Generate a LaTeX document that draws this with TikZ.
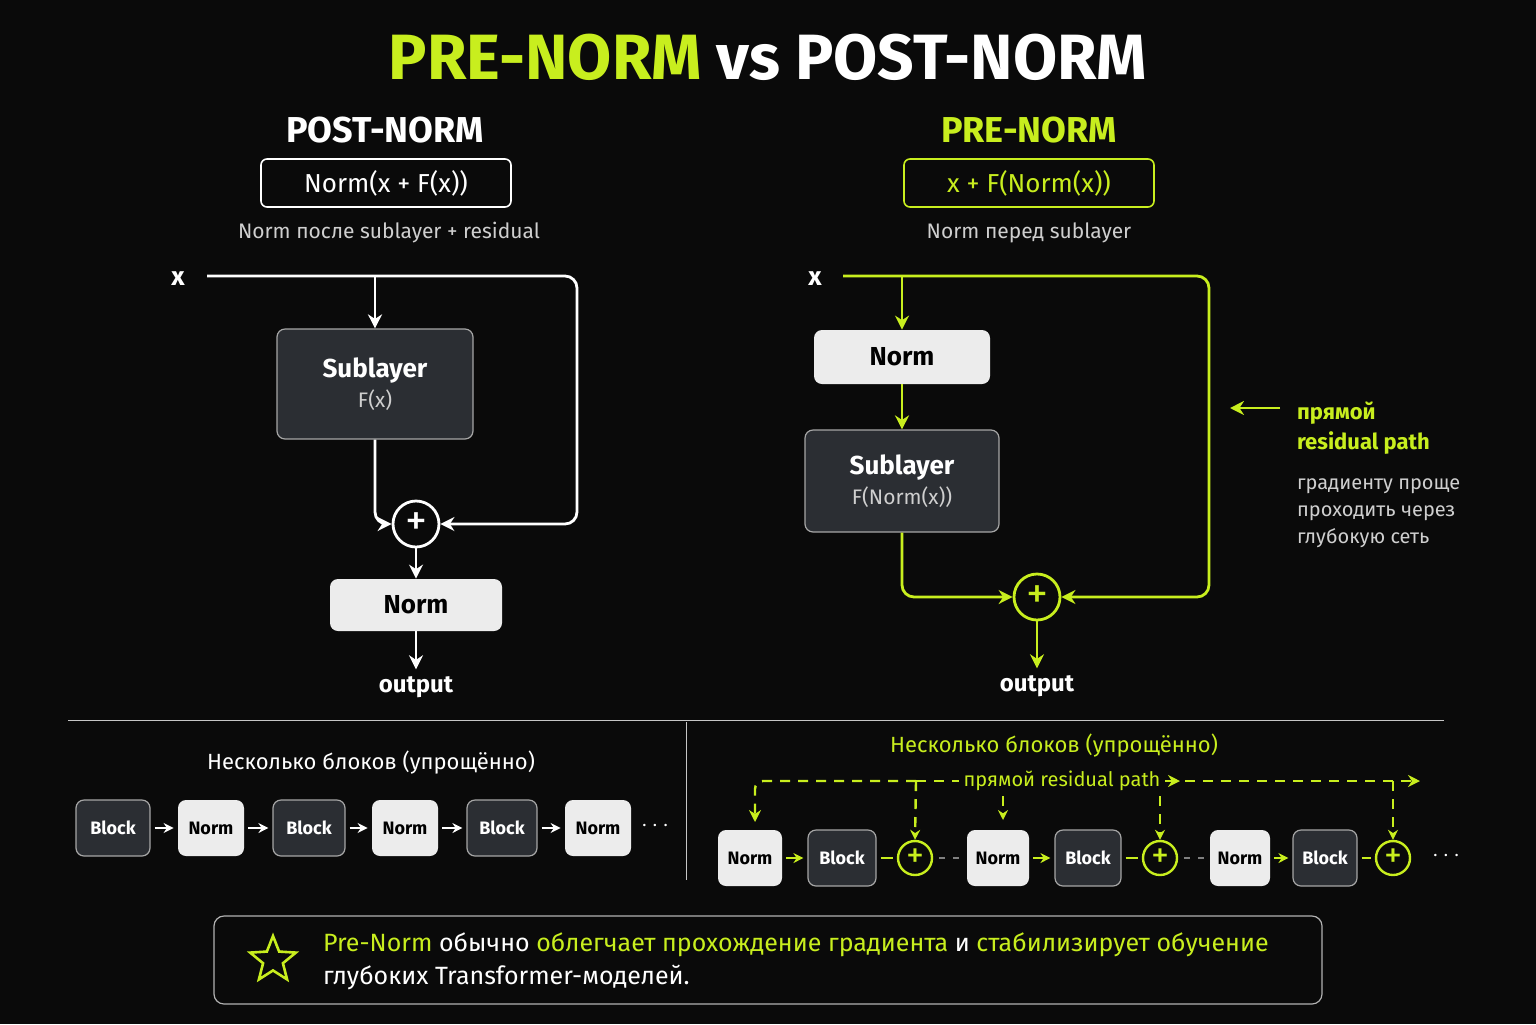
\documentclass[tikz,border=0pt]{standalone}
\usepackage{fontspec}
\setmainfont{Fira Sans}
\usetikzlibrary{arrows.meta,shapes.geometric}
\definecolor{bg}{HTML}{0A0A0A}
\definecolor{lime}{HTML}{C8EE1E}
\definecolor{darkbox}{HTML}{2B2E33}
\definecolor{lightbox}{HTML}{ECECEC}
\definecolor{softgray}{HTML}{CFCFCF}
\tikzset{
  wire/.style={white,line width=1.4pt,rounded corners=6pt},
  limewire/.style={lime,line width=1.4pt,rounded corners=6pt},
  arr/.style={-{Stealth[length=7pt,width=7pt]}},
  dark/.style={draw=gray!70,fill=darkbox,rounded corners=4pt,line width=0.6pt,text=white},
  light/.style={draw=none,fill=lightbox,rounded corners=4pt,text=black},
  sumnode/.style={circle,draw,line width=1.4pt,minimum size=23pt,inner sep=0pt},
  chain/.style={font=\fontsize{9}{10}\selectfont\bfseries,minimum height=28pt,inner sep=0pt},
  rsum/.style={circle,draw=lime,line width=1.2pt,minimum size=17pt,inner sep=0pt,text=lime,font=\fontsize{18}{18}\selectfont},
  limedash/.style={lime,line width=1.2pt,dash pattern=on 5pt off 4pt},
}
\begin{document}
\begin{tikzpicture}[x=0.5pt,y=-0.5pt]
\fill[bg] (0,0) rectangle (1536,1024);
% Drawing title
\node (title) at (768,57) {\fontsize{32}{36}\selectfont\bfseries\textcolor{lime}{PRE-NORM} \textcolor{white}{vs POST-NORM}};
% Post-norm header
\node[white,font=\fontsize{18}{20}\selectfont\bfseries] (posthead) at (385,130) {POST-NORM};
\node[draw=white,line width=0.8pt,rounded corners=3pt,white,minimum width=125pt,minimum height=24pt,font=\fontsize{13}{14}\selectfont] (postf) at (386,183) {Norm(x + F(x))};
\node[softgray,font=\fontsize{10.5}{12}\selectfont] (postsub) at (389,233) {Norm после sublayer + residual};
% Post-norm graph
\node[white,font=\fontsize{13}{14}\selectfont\bfseries] (px) at (178,279) {x};
\node[dark,minimum width=98pt,minimum height=55pt,align=center] (psub) at (375,384) {{\fontsize{13}{15}\selectfont\bfseries Sublayer}\\[3pt]{\fontsize{10.5}{12}\selectfont\color{softgray}F(x)}};
\node[sumnode,draw=white,text=white] (psum) at (416,524) {\fontsize{22}{22}\selectfont+};
\node[light,minimum width=86pt,minimum height=26pt,font=\fontsize{13}{14}\selectfont\bfseries] (pnorm) at (416,605) {Norm};
\node[white,font=\fontsize{12}{14}\selectfont\bfseries] (pout) at (416,687) {output};
\coordinate (pa) at (207,276);
\coordinate (pb) at (375,276);
\draw[wire,arr] (pa) -- (577,276) -- (577,524) -- (psum.east);
\draw[wire,arr] (pb) -- (psub.north);
\draw[wire,arr] (psub.south) -- (375,524) -- (psum.west);
\draw[wire,arr] (psum.south) -- (pnorm.north);
\draw[wire,arr] (pnorm.south) -- (pout.north);
% Pre-norm header
\node[lime,font=\fontsize{18}{20}\selectfont\bfseries] (prehead) at (1029,130) {PRE-NORM};
\node[draw=lime,line width=0.8pt,rounded corners=3pt,lime,minimum width=125pt,minimum height=24pt,font=\fontsize{13}{14}\selectfont] (pref) at (1029,183) {x + F(Norm(x))};
\node[softgray,font=\fontsize{10.5}{12}\selectfont] (presub) at (1029,233) {Norm перед sublayer};
% Pre-norm graph
\node[white,font=\fontsize{13}{14}\selectfont\bfseries] (qx) at (815,279) {x};
\node[light,minimum width=88pt,minimum height=27pt,font=\fontsize{13}{14}\selectfont\bfseries] (qnorm) at (902,357) {Norm};
\node[dark,minimum width=97pt,minimum height=51pt,align=center] (qsub) at (902,481) {{\fontsize{13}{15}\selectfont\bfseries Sublayer}\\[3pt]{\fontsize{10.5}{12}\selectfont\color{softgray}F(Norm(x))}};
\node[sumnode,draw=lime,text=lime] (qsum) at (1037,597) {\fontsize{22}{22}\selectfont+};
\node[white,font=\fontsize{12}{14}\selectfont\bfseries] (qout) at (1037,686) {output};
\coordinate (qa) at (843,276);
\coordinate (qb) at (902,276);
\draw[limewire,arr] (qa) -- (1209,276) -- (1209,597) -- (qsum.east);
\draw[limewire,arr] (qb) -- (qnorm.north);
\draw[limewire,arr] (qnorm.south) -- (qsub.north);
\draw[limewire,arr] (qsub.south) -- (902,597) -- (qsum.west);
\draw[limewire,arr] (qsum.south) -- (qout.north);
% Side note
\coordinate (na) at (1280,408);
\coordinate (nb) at (1230,408);
\draw[limewire,arr] (na) -- (nb);
\node[lime,anchor=north west,align=left,font=\fontsize{11}{15}\selectfont\bfseries] (note) at (1290,395) {прямой\\residual path};
\node[softgray,anchor=north west,align=left,font=\fontsize{10}{13.5}\selectfont] (note2) at (1290,472) {градиенту проще\\проходить через\\глубокую сеть};
% Dividers
\draw[gray!45,line width=0.5pt] (68,720) -- (1444,720);
\draw[gray!45,line width=0.5pt] (686,722) -- (686,880);
% Bottom left chain
\node[white,font=\fontsize{11}{12}\selectfont] (ltitle) at (371,763) {Несколько блоков (упрощённо)};
\foreach \n/\t/\x/\w in {1/Block/113/37,2/Norm/211/33,3/Block/309/36,4/Norm/405/33,5/Block/502/35,6/Norm/598/33}{
  \ifodd\n
    \node[dark,chain,minimum width=\w pt] (l\n) at (\x,828) {\t};
  \else
    \node[light,chain,minimum width=\w pt] (l\n) at (\x,828) {\t};
  \fi
}
\node[white,font=\fontsize{12}{12}\selectfont\bfseries] (ldots) at (655,826) {$\cdots$};
\foreach \a/\b in {1/2,2/3,3/4,4/5,5/6}
  \draw[wire,-{Stealth[length=5pt,width=5pt]},line width=1pt,shorten <=2pt,shorten >=2pt] (l\a) -- (l\b);
% Bottom right chain
\node[lime,font=\fontsize{11}{12}\selectfont] (rtitle) at (1054,746) {Несколько блоков (упрощённо)};
\node[light,chain,minimum width=32pt] (rn1) at (750,858) {Norm};
\node[dark,chain,minimum width=34pt] (rb1) at (842,858) {Block};
\node[rsum] (rs1) at (915,858) {+};
\node[light,chain,minimum width=31pt] (rn2) at (998,858) {Norm};
\node[dark,chain,minimum width=33pt] (rb2) at (1088,858) {Block};
\node[rsum] (rs2) at (1160,858) {+};
\node[light,chain,minimum width=30pt] (rn3) at (1240,858) {Norm};
\node[dark,chain,minimum width=32pt] (rb3) at (1325,858) {Block};
\node[rsum] (rs3) at (1393,858) {+};
\node[white,font=\fontsize{12}{12}\selectfont\bfseries] (rdots) at (1446,856) {$\cdots$};
\foreach \i in {1,2,3}{
  \draw[limewire,-{Stealth[length=5pt,width=5pt]},line width=1.2pt,shorten <=2pt,shorten >=2pt] (rn\i) -- (rb\i);
  \draw[limewire,line width=1.2pt,shorten <=2pt,shorten >=2pt] (rb\i) -- (rs\i);
}
\draw[gray,line width=0.8pt,dash pattern=on 3pt off 4pt,shorten <=3pt,shorten >=3pt] (rs1) -- (rn2);
\draw[gray,line width=0.8pt,dash pattern=on 3pt off 4pt,shorten <=3pt,shorten >=3pt] (rs2) -- (rn3);
% Residual dashed path
\node[lime,font=\fontsize{10}{12}\selectfont,fill=bg,inner sep=2pt] (rpath) at (1062,781) {прямой residual path};
\coordinate (d0) at (755,781);
\coordinate (d1) at (916,781);
\coordinate (d4) at (1393,781);
\coordinate (dend) at (1420,781);
\draw[limedash,rounded corners=4pt,-{Stealth[length=6pt,width=6pt]}] (d1) -- (d0) -- (755,822);
\draw[limedash] (d1) -- (rpath.west);
\draw[limedash,-{Stealth[length=6pt,width=6pt]}] (rpath.east) -- (1180,781);
\draw[limedash,-{Stealth[length=6pt,width=6pt]}] (1185,781) -- (dend);
\draw[limedash,-{Stealth[length=5pt,width=5pt]}] (d1) -- (rs1.north);
\draw[limedash,-{Stealth[length=5pt,width=5pt]}] (1003,796) -- (1003,820);
\draw[limedash,-{Stealth[length=5pt,width=5pt]}] (1160,796) -- (rs2.north);
\draw[limedash,-{Stealth[length=5pt,width=5pt]}] (d4) -- (rs3.north);
% Summary box
\node[draw=gray!60,line width=0.6pt,rounded corners=5pt,minimum width=554pt,minimum height=44pt] (summary) at (768,960) {};
\node[star,star points=5,star point ratio=2.3,draw=lime,line width=1.3pt,minimum size=24pt,inner sep=0pt] (star) at (273,960) {};
\node[anchor=west,align=left,white,font=\fontsize{12.5}{16.5}\selectfont] (stext) at (316,961) {\textcolor{lime}{Pre-Norm} обычно \textcolor{lime}{облегчает прохождение градиента} и \textcolor{lime}{стабилизирует обучение}\\глубоких Transformer-моделей.};
\end{tikzpicture}
\end{document}
